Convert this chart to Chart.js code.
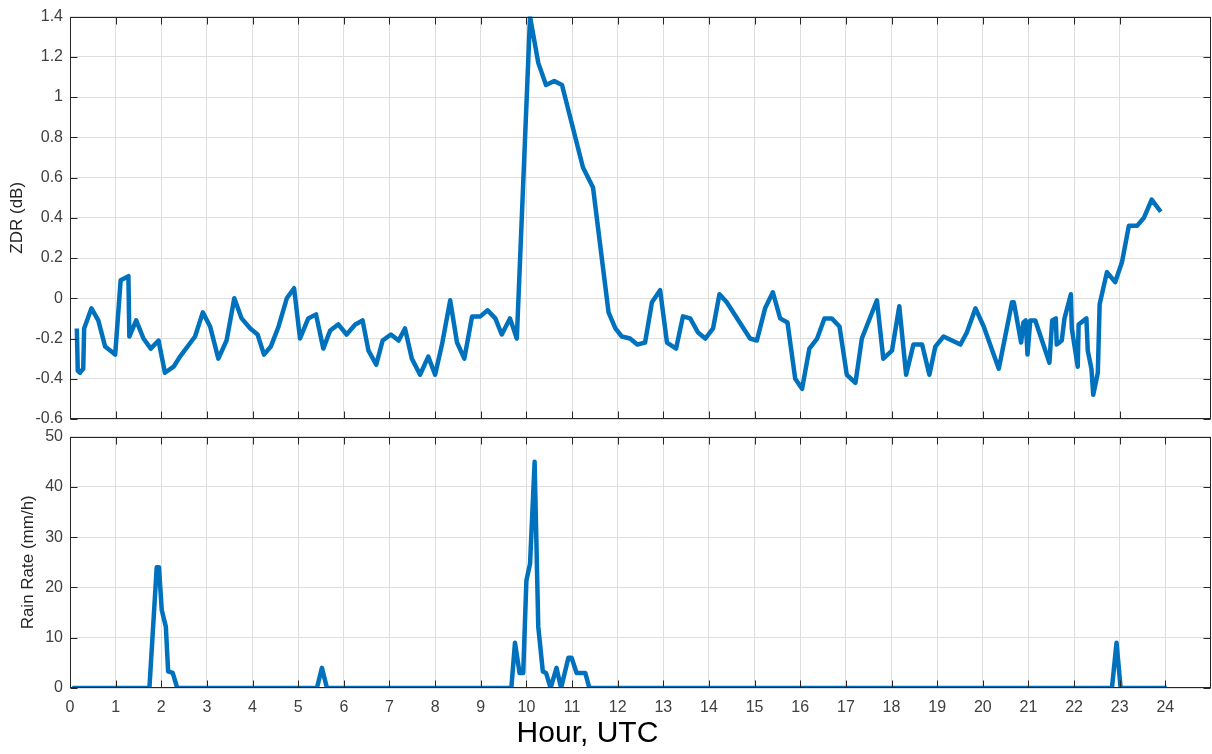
<!DOCTYPE html>
<html>
<head>
<meta charset="utf-8">
<script src="https://cdn.jsdelivr.net/npm/chart.js@4.4.1/dist/chart.umd.min.js"></script>
<style>
  html, body { margin: 0; padding: 0; background: #ffffff; }
  #wrap { position: relative; width: 1212px; height: 754px; overflow: hidden; }
  canvas { position: absolute; left: 0; }
  #cTop { top: 0; }
  #cBot { top: 420px; }
</style>
</head>
<body>
<div id="wrap">
  <canvas id="cTop" width="1212" height="440"></canvas>
  <canvas id="cBot" width="1212" height="334"></canvas>
</div>
<script>
// ---------- data ----------
const zdrHours = [0.15,0.17,0.22,0.29,0.31,0.47,0.62,0.77,0.99,1.11,1.28,1.30,1.45,1.61,1.77,1.94,2.08,2.27,2.41,2.74,2.91,3.07,3.25,3.43,3.60,3.76,3.95,4.11,4.25,4.40,4.57,4.75,4.91,5.04,5.22,5.39,5.55,5.70,5.88,6.06,6.25,6.41,6.54,6.71,6.85,7.03,7.20,7.34,7.49,7.67,7.85,8.00,8.15,8.33,8.48,8.64,8.81,8.99,9.15,9.32,9.46,9.64,9.79,10.08,10.26,10.43,10.61,10.78,11.24,11.46,11.80,11.95,12.09,12.27,12.43,12.60,12.75,12.93,13.08,13.28,13.43,13.59,13.76,13.92,14.09,14.23,14.39,14.90,15.05,15.23,15.40,15.56,15.72,15.89,16.04,16.20,16.37,16.53,16.69,16.86,17.02,17.21,17.35,17.68,17.82,18.01,18.17,18.32,18.48,18.67,18.83,18.96,19.14,19.51,19.65,19.84,20.02,20.35,20.64,20.68,20.84,20.89,20.94,20.98,21.04,21.15,21.46,21.52,21.60,21.62,21.73,21.79,21.93,21.95,22.08,22.10,22.27,22.30,22.38,22.42,22.52,22.56,22.72,22.90,23.05,23.20,23.38,23.53,23.70,23.90];
const zdrValues = [-0.15,-0.36,-0.37,-0.35,-0.15,-0.05,-0.11,-0.24,-0.28,0.09,0.11,-0.19,-0.11,-0.20,-0.25,-0.21,-0.37,-0.34,-0.29,-0.19,-0.07,-0.14,-0.30,-0.21,0.00,-0.10,-0.15,-0.18,-0.28,-0.24,-0.14,0.00,0.05,-0.20,-0.10,-0.08,-0.25,-0.16,-0.13,-0.18,-0.13,-0.11,-0.26,-0.33,-0.21,-0.18,-0.21,-0.15,-0.30,-0.38,-0.29,-0.38,-0.23,-0.01,-0.22,-0.30,-0.09,-0.09,-0.06,-0.10,-0.18,-0.10,-0.20,1.40,1.17,1.06,1.08,1.06,0.65,0.55,-0.07,-0.15,-0.19,-0.20,-0.23,-0.22,-0.02,0.04,-0.22,-0.25,-0.09,-0.10,-0.17,-0.20,-0.15,0.02,-0.02,-0.20,-0.21,-0.05,0.03,-0.10,-0.12,-0.40,-0.45,-0.25,-0.20,-0.10,-0.10,-0.14,-0.38,-0.42,-0.20,-0.01,-0.30,-0.26,-0.04,-0.38,-0.23,-0.23,-0.38,-0.24,-0.19,-0.23,-0.17,-0.05,-0.14,-0.35,-0.02,-0.02,-0.22,-0.12,-0.11,-0.28,-0.11,-0.11,-0.32,-0.11,-0.10,-0.23,-0.21,-0.10,0.02,-0.15,-0.34,-0.13,-0.10,-0.26,-0.35,-0.48,-0.37,-0.03,0.13,0.08,0.18,0.36,0.36,0.40,0.49,0.43];

const rainHours  = [0.05,1.74,1.90,1.95,2.01,2.10,2.15,2.25,2.35,5.41,5.52,5.63,9.67,9.75,9.85,9.93,10.00,10.08,10.18,10.26,10.36,10.43,10.53,10.66,10.76,10.92,10.99,11.10,11.29,11.38,22.83,22.93,23.02,24.03];
const rainValues = [0,0,24,24,15.5,12.2,3.3,3,0,0,4,0,0,9,3,3,21.4,24.7,45,12.2,3.3,3,0,4,0,6,6,3,3,0,0,9,0,0];

const zdrTicks  = [-0.6,-0.4,-0.2,0,0.2,0.4,0.6,0.8,1,1.2,1.4];
const rainTicks = [0,10,20,30,40,50];
const hourTicksTop = [0,1,2,3,4,5,6,7,8,9,10,11,12,13,14,15,16,17,18,19,20,21,22,23];
const hourTicksBottom = [0,1,2,3,4,5,6,7,8,9,10,11,12,13,14,15,16,17,18,19,20,21,22,23,24];

const xLabel = 'Hour, UTC';
const zdrLabel = 'ZDR (dB)';
const rainLabel = 'Rain Rate (mm/h)';

// ---------- styling ----------
const LINE = '#0072BD';
const AXIS = '#262626';
const GRID = '#dedede';
const TICKTXT = '#404040';
const FONT = "'Liberation Sans', Arial, Helvetica, sans-serif";

// inward tick marks + full box
const boxPlugin = {
  id: 'box',
  afterDraw(chart, args, opts) {
    const ctx = chart.ctx, a = chart.chartArea;
    const xs = chart.scales.x, ys = chart.scales.y;
    const L = Math.round(a.left) + 0.5, R = Math.round(a.right) - 0.5;
    const T = Math.round(a.top) + 0.5, B = Math.round(a.bottom) - 0.5;
    const len = 7;
    ctx.save();
    ctx.strokeStyle = AXIS;
    ctx.lineWidth = 1;
    ctx.beginPath();
    xs.ticks.forEach(t => {
      const px = Math.round(xs.getPixelForValue(t.value)) + 0.5;
      ctx.moveTo(px, B); ctx.lineTo(px, B - len);
      ctx.moveTo(px, T); ctx.lineTo(px, T + len);
    });
    ys.ticks.forEach(t => {
      const py = Math.round(ys.getPixelForValue(t.value)) + 0.5;
      ctx.moveTo(L, py); ctx.lineTo(L + len, py);
      ctx.moveTo(R, py); ctx.lineTo(R - len, py);
    });
    ctx.stroke();
    ctx.strokeRect(L, T, R - L, B - T);
    if (opts && opts.xTitle) {
      ctx.fillStyle = '#000000';
      ctx.font = '30px ' + FONT;
      ctx.textAlign = 'center';
      ctx.textBaseline = 'middle';
      const cx = a.left + (a.right - a.left) * 0.4535;
      ctx.fillText(opts.xTitle, cx, a.bottom + 46);
    }
    ctx.restore();
  }
};

function pts(xs, ys) { return xs.map((x, i) => ({ x: x, y: ys[i] })); }

function fixedTicks(list) {
  return function(scale) { scale.ticks = list.map(v => ({ value: v })); };
}

function makeChart(id, cfg) {
  return new Chart(document.getElementById(id), {
    type: 'line',
    data: { datasets: [{
      data: pts(cfg.xs, cfg.ys),
      borderColor: LINE,
      borderWidth: 4.5,
      pointRadius: 0,
      tension: 0,
      borderJoinStyle: 'round',
      borderCapStyle: 'butt',
      fill: false
    }]},
    options: {
      responsive: false,
      animation: false,
      devicePixelRatio: 1,
      layout: { padding: cfg.padding },
      plugins: { legend: { display: false }, tooltip: { enabled: false }, box: { xTitle: cfg.xTitle || null } },
      scales: {
        x: {
          type: 'linear', min: 0, max: 25,
          afterBuildTicks: fixedTicks(cfg.xTicks),
          afterFit: s => { s.height = cfg.xHeight; },
          grid: { color: GRID, lineWidth: 1, drawTicks: false },
          border: { display: false },
          ticks: {
            display: cfg.xLabels,
            padding: 10,
            color: TICKTXT,
            font: { family: FONT, size: 16 },
            maxRotation: 0,
            autoSkip: false,
            callback: v => String(v)
          }
        },
        y: {
          type: 'linear', min: cfg.yMin, max: cfg.yMax,
          afterBuildTicks: fixedTicks(cfg.yTicks),
          afterFit: s => { s.width = 70; },
          grid: { color: GRID, lineWidth: 1, drawTicks: false },
          border: { display: false },
          ticks: {
            padding: 7,
            color: TICKTXT,
            font: { family: FONT, size: 16 },
            callback: v => String(Math.round(v * 10) / 10)
          },
          title: {
            display: true,
            text: cfg.yTitle,
            color: AXIS,
            font: { family: FONT, size: 17 },
            padding: { top: cfg.yTitlePad, bottom: 0 }
          }
        }
      }
    },
    plugins: [boxPlugin]
  });
}

makeChart('cTop', {
  xs: zdrHours, ys: zdrValues,
  yMin: -0.6, yMax: 1.4, yTicks: zdrTicks,
  xTicks: hourTicksTop, xLabels: false, xHeight: 0,
  padding: { left: 0, right: 1, top: 13, bottom: 21 },
  yTitle: zdrLabel, yTitlePad: 7
});

makeChart('cBot', {
  xs: rainHours, ys: rainValues,
  yMin: 0, yMax: 50, yTicks: rainTicks,
  xTicks: hourTicksBottom, xLabels: true, xHeight: 66,
  padding: { left: 0, right: 1, top: 15, bottom: 0 },
  yTitle: rainLabel, yTitlePad: 18,
  xTitle: xLabel
});
</script>
</body>
</html>
